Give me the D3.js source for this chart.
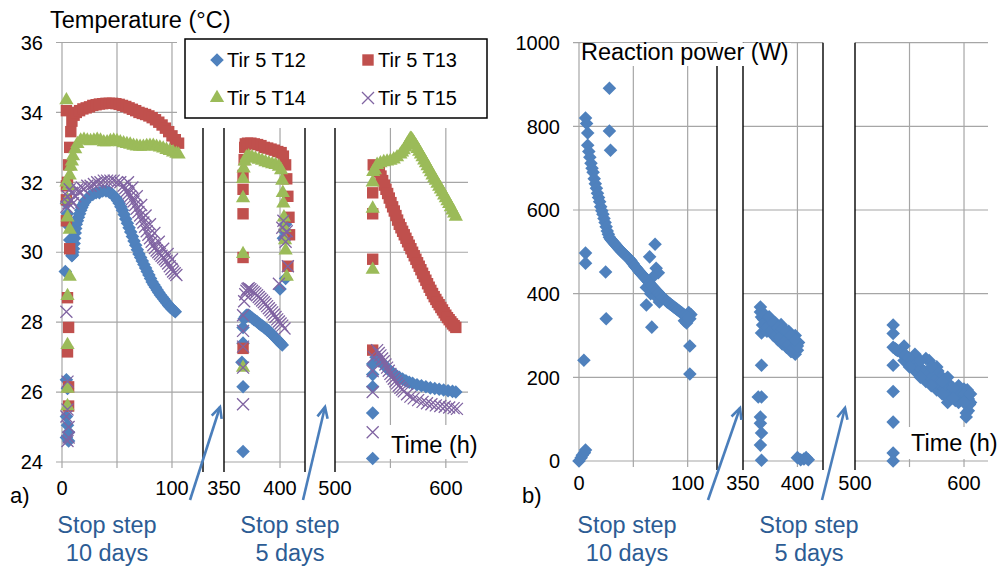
<!DOCTYPE html>
<html>
<head>
<meta charset="utf-8">
<script src="https://cdn.jsdelivr.net/npm/d3@7"></script>
<style>
  body { margin: 0; background: #fff; }
  svg { font-family: "Liberation Sans", Arial, sans-serif; }
</style>
</head>
<body>
<svg id="chart" width="997" height="568"></svg>
<script>
/***********************************************************
 * DATA  (time in h, temperature in °C, power in W)
 ************************************************************/
var sensors = ["Tir 5 T12", "Tir 5 T13", "Tir 5 T14", "Tir 5 T15"];
var colors  = ["#4F81BD", "#C0504D", "#9BBB59", "#8064A2"];
var tempTicks  = [24, 26, 28, 30, 32, 34, 36];
var powerTicks = [0, 200, 400, 600, 800, 1000];
var gridTimes  = [[0, 50, 100], [400], [550, 600]];
var timeLabels = [[0, 100], [350, 400], [500, 600]];

var T12 = [
  [3,29.45],[4,26.35],[5,26.1],[4,25.3],[5,25.05],[6,24.85],[4,24.7],[6,24.6],
  [4,31.4],[5,31.1],[6,30.75],[7,30.35],[8,30.0],[9,29.9],[10,30.0],[11,30.25],[12,30.55],[13,30.8],
  [15,31.0],[17,31.2],[19,31.35],[22,31.5],[25,31.6],[28,31.65],[31,31.7],[34,31.7],[37,31.75],
  [40,31.75],[43,31.72],[46,31.65],[49,31.55],[52,31.4],[55,31.2],[58,30.95],[61,30.7],[64,30.45],
  [67,30.2],[70,29.95],[73,29.75],[76,29.55],[79,29.35],[82,29.15],[85,29.0],[88,28.85],[91,28.72],
  [94,28.6],[97,28.48],[100,28.38],[103,28.3],
  [9.5,29.92],[10.5,30.1],[11.5,30.4],[12.5,30.68],[14,30.9],[16,31.1],[18,31.28],[20.5,31.43],
  [50.5,31.48],[53.5,31.3],[56.5,31.08],[59.5,30.83],[62.5,30.58],[65.5,30.32],[68.5,30.07],
  [71.5,29.85],[74.5,29.65],[77.5,29.45],[80.5,29.25],[83.5,29.07],[86.5,28.92],[89.5,28.78],
  [92.5,28.66],[95.5,28.54],[98.5,28.43],[101.5,28.34],
  [367,24.3],[367,26.15],[366,26.85],[367,27.4],[367,27.85],[368,28.1],[370,28.2],[372,28.2],
  [375,28.12],[378,28.05],[381,27.97],[384,27.9],[387,27.82],[390,27.75],[393,27.65],[396,27.55],
  [399,27.45],[402,27.35],[400,28.95],[405,29.25],[403,30.4],[404,30.6],[405,30.8],
  [369,28.15],[371,28.2],[373.5,28.16],[376.5,28.08],[379.5,28.01],[382.5,27.93],[385.5,27.86],
  [388.5,27.78],[391.5,27.7],[394.5,27.6],[397.5,27.5],[400.5,27.4],
  [534,24.1],[534,25.4],[534,26.15],[534,26.5],[534,26.8],[537,27.0],[540,26.92],[543,26.82],
  [546,26.72],[549,26.62],[552,26.55],[555,26.48],[558,26.42],[561,26.37],[564,26.32],[567,26.28],
  [570,26.25],[574,26.21],[578,26.18],[582,26.15],[586,26.12],[590,26.1],[594,26.08],[598,26.06],
  [602,26.04],[606,26.02],[609,26.0],
  [538.5,26.96],[541.5,26.87],[544.5,26.77],[547.5,26.67],[550.5,26.58]
];
var T13 = [
  [4,34.05],[4,30.9],[7,30.1],[5,28.7],[6,27.85],[5,27.15],[6,26.15],[6,25.6],[4,31.5],[4,31.9],
  [5,32.0],[6,32.5],[7,33.0],[8,33.45],[9,33.75],[11,33.92],[13,34.0],[16,34.05],[19,34.1],
  [22,34.13],[25,34.16],[28,34.2],[31,34.22],[34,34.24],[37,34.25],[40,34.26],[43,34.26],[46,34.26],
  [49,34.25],[52,34.23],[55,34.2],[58,34.17],[61,34.13],[64,34.09],[67,34.05],[70,34.0],[73,33.97],
  [76,33.94],[79,33.9],[82,33.85],[85,33.79],[88,33.72],[91,33.64],[94,33.55],[97,33.45],[100,33.33],
  [103,33.22],[106,33.12],
  [367,27.25],[367,29.85],[367,31.1],[367,31.8],[367,32.2],[368,32.65],[368.5,33.0],[369,33.1],
  [371,33.12],[374,33.12],[377,33.1],[380,33.08],[383,33.05],[386,33.0],[389,32.98],[392,32.95],
  [395,32.92],[398,32.88],[401,32.85],[403,32.75],[405,32.5],[406,32.1],[407,31.6],[408,31.0],
  [408.5,30.5],[407,29.6],
  [534,27.2],[534,29.8],[534,31.1],[534,31.7],[534.5,32.5],[536,32.4],[538,32.35],[540,32.3],
  [543,32.05],[546,31.8],[549,31.55],[552,31.3],[555,31.05],[558,30.8],[561,30.6],[564,30.4],
  [567,30.2],[570,30.0],[573,29.8],[576,29.6],[579,29.4],[582,29.2],[585,29.0],[588,28.82],
  [591,28.65],[594,28.5],[597,28.35],[600,28.2],[603,28.07],[606,27.95],[609,27.85],
  [537,32.38],[539,32.32],[541.5,32.18],[544.5,31.92],[547.5,31.68],[550.5,31.42],[553.5,31.18],
  [556.5,30.92],[559.5,30.7],[562.5,30.5],[565.5,30.3],[568.5,30.1],[571.5,29.9],[574.5,29.7],
  [577.5,29.5],[580.5,29.3],[583.5,29.1],[586.5,28.91],[589.5,28.73],[592.5,28.57],[595.5,28.42],
  [598.5,28.27],[601.5,28.13],[604.5,28.01],[607.5,27.9]
];
var T14 = [
  [4,34.35],[4,32.0],[5,31.0],[7,30.65],[7,29.3],[5,28.75],[5,27.35],[5,26.1],[5,25.6],
  [5,31.5],[6,31.9],[7,32.2],[8,32.45],[9,32.6],[10,32.75],[12,32.95],[14,33.1],[17,33.2],
  [20,33.22],[23,33.2],[26,33.18],[29,33.2],[32,33.22],[35,33.2],[38,33.15],[41,33.15],[44,33.18],
  [47,33.2],[50,33.18],[53,33.15],[56,33.12],[59,33.1],[62,33.08],[65,33.05],[68,33.03],[71,33.02],
  [74,33.02],[77,33.04],[80,33.05],[83,33.05],[86,33.02],[89,33.0],[92,32.97],[95,32.93],[98,32.9],
  [101,32.86],[104,32.82],[106,32.8],
  [367,26.7],[367,29.95],[367,31.55],[367,32.1],[367.5,32.4],[368.5,32.6],[370,32.72],[372,32.75],
  [375,32.72],[378,32.68],[381,32.65],[384,32.62],[387,32.58],[390,32.55],[393,32.52],[396,32.5],
  [399,32.45],[401,32.35],[402,32.05],[402.5,31.7],[403,31.4],[403.5,31.0],[404,30.7],[404.5,30.35],
  [405,30.05],[406,29.3],
  [534,29.5],[534,31.25],[534,32.0],[534.5,32.3],[536,32.35],[538,32.5],[541,32.55],[544,32.58],
  [547,32.6],[550,32.62],[553,32.66],[556,32.72],[559,32.8],[562,32.92],[565,33.08],[568,33.25],
  [570,33.2],[573,33.05],[576,32.88],[579,32.72],[582,32.55],[585,32.38],[588,32.2],[591,32.05],
  [594,31.88],[597,31.72],[600,31.55],[603,31.38],[606,31.2],[609,31.02],
  [560.5,32.86],[563.5,33.0],[566.5,33.16],[569,33.24],[571.5,33.12],[574.5,32.96],[577.5,32.8],
  [580.5,32.63],[583.5,32.46],[586.5,32.29],[589.5,32.12],[592.5,31.96],[595.5,31.8],[598.5,31.63],
  [601.5,31.46],[604.5,31.29],[607.5,31.11]
];
var T15 = [
  [4,28.3],[5,26.3],[5,25.5],[6,25.0],[6,24.7],[5,24.6],[4,25.3],
  [4,31.3],[5,31.6],[6,31.4],[7,31.8],[8,31.5],[9,31.7],[10,31.4],[12,31.6],[14,31.8],[16,31.7],
  [18,31.85],[20,31.8],[23,31.9],[26,31.9],[29,31.95],[32,32.0],[35,32.0],[38,32.05],[41,32.05],
  [44,32.05],[47,32.05],[50,32.0],[53,32.0],[56,31.9],[59,31.75],[62,31.6],[65,31.45],[68,31.25],
  [71,31.05],[74,30.85],[77,30.6],[80,30.4],[83,30.2],[86,30.05],[89,29.95],[92,29.85],[95,29.75],
  [98,29.6],[101,29.45],[104,29.35],
  [60,32.0],[64,31.85],[68,31.6],[72,31.35],[76,31.05],[80,30.8],[84,30.55],[88,30.3],[92,30.1],
  [96,29.95],[100,29.8],
  [57.5,31.83],[60.5,31.68],[63.5,31.52],[66.5,31.35],[69.5,31.15],[72.5,30.95],[75.5,30.73],
  [78.5,30.5],[81.5,30.3],[84.5,30.12],[87.5,30.0],[90.5,29.9],[93.5,29.8],[96.5,29.68],[99.5,29.52],
  [102.5,29.4],
  [367,25.65],[367,26.7],[367,27.3],[367,27.75],[367,28.2],[368,28.6],[370,28.9],[372,28.97],
  [375,28.9],[378,28.82],[381,28.72],[384,28.62],[387,28.52],[390,28.4],[393,28.28],[396,28.15],
  [399,28.02],[402,27.9],[404,27.82],[399,29.1],[402,30.7],[403,30.9],[404,30.5],[405,30.3],
  [406,30.6],[407,29.6],
  [369,28.8],[371,28.95],[373.5,28.94],[376.5,28.86],[379.5,28.77],[382.5,28.67],[385.5,28.57],
  [388.5,28.46],[391.5,28.34],[394.5,28.22],[397.5,28.08],[400.5,27.96],
  [534,24.85],[534,26.0],[534,26.6],[535,27.0],[538,27.2],[541,27.05],[544,26.88],[547,26.7],
  [550,26.52],[553,26.38],[556,26.25],[559,26.12],[562,26.02],[565,25.94],[568,25.87],[571,25.82],
  [575,25.77],[579,25.72],[583,25.68],[587,25.65],[591,25.62],[595,25.6],[599,25.58],[603,25.56],
  [607,25.54],[610,25.52],
  [539.5,27.12],[542.5,26.96],[545.5,26.79],[548.5,26.61],[551.5,26.45],[554.5,26.31],[557.5,26.18],
  [560.5,26.07]
];
var power = [
  [0,0],[2,8],[3,14],[5,20],[6,26],[4.5,241],[6,497],[6,473],[25,340],[24.5,452],
  [28,891],[28,789],[29,743],[62,373],[67,320],[65,488],[70,518],[71,461],[73,450],[102,275],[102,208],
  [6,820],[7,807],[8,784],[8,755],[9,740],[10,726],[11,712],[12,700],[13,690],[14,675],[15,663],
  [16,652],[17,640],[18,630],[19,620],[20,608],[21,598],[22,590],[23,580],[24,570],[25,560],[26,550],
  [27,542],[28,535],[30,528],[32,522],[34,516],[36,510],[38,504],[40,499],[42,494],[44,489],[46,484],
  [48,478],[50,471],[52,464],[54,458],[56,451],[58,446],[60,440],[62,434],[64,428],[66,422],[68,416],
  [70,410],[72,405],[74,399],[76,394],[78,389],[80,384],[82,379],[84,375],[86,371],[88,367],[90,363],
  [92,359],[94,355],[96,351],[98,347],[100,344],[102,340],[103,350],[101,355],[99,330],[97,335],
  [62,415],[66,400],[70,395],[74,380],[68,440],
  [29,531],[31,525],[33,519],[35,513],[37,507],[39,501],[41,496],[43,491],[45,486],[47,481],
  [49,474],[51,467],[53,461],[55,454],[57,448],[59,443],[61,437],[63,431],[65,425],[67,419],
  [69,413],[71,407],[73,402],[75,396],[77,391],[79,386],[81,381],[83,377],[85,373],[87,369],
  [89,365],[91,361],[93,357],[95,353],[97,349],[99,345],[101,342],
  [364,153],[367,153],[366,105],[366,90],[367,67],[366,38],[367,2],[367,229],[367,306],[366,368],
  [366,356],[367,344],[369,338],[371,333],[373,327],[375,322],[377,318],[379,314],[381,310],[383,305],
  [385,301],[387,297],[389,293],[391,290],[393,287],[395,284],[397,281],[399,279],[401,283],
  [378,300],[382,290],[386,280],[390,272],[394,262],[398,255],[380,330],[385,326],[392,310],[398,300],
  [370,350],[375,335],[390,300],[372,310],[385,285],[395,262],[400,265],
  [368,325],[372,320],[376,310],[380,300],[384,295],[388,285],[392,278],[396,270],[400,275],
  [374,345],[378,330],[382,320],[386,315],[390,310],[394,300],[398,290],
  [400,8],[403,3],[406,5],[408,8],[410,3],
  [535,325],[535,305],[535,229],[535,166],[535,93],[535,19],[535,0],[535,272],[538,266],[541,262],
  [544,258],[547,251],[550,244],[553,236],[556,229],[559,223],[562,217],[565,210],[568,203],[571,196],
  [574,189],[577,182],[580,176],[583,170],[586,165],[589,162],[592,160],[595,159],[598,158],[601,155],
  [604,148],[606,140],[604,120],[602,105],[568,240],[572,225],[576,215],[580,200],[584,190],[596,170],
  [600,172],[588,150],[592,145],[585,140],
  [545,275],[555,255],[565,245],[575,225],[585,200],[595,180],[603,170],
  [545,240],[555,215],[565,190],[575,170],[585,150],[595,140],[602,115],
  [537,268],[539,264],[543,258],[546,254],[549,247],[552,240],[555,232],[558,226],[561,220],
  [564,213],[567,206],[570,199],[573,192],[576,186],[579,179],[582,173],[585,167],[588,163],
  [591,161],[594,159],[597,158],[600,156],[603,150],[605,135],
  [560,240],[570,225],[580,190],[590,175],[600,160],[606,160],
  [550,225],[560,200],[570,180],[580,160],[590,150],[600,140]
];

/***********************************************************
 * LAYOUT
 ************************************************************/
var svg = d3.select("#chart");
var gridColor = "#A6A6A6";

var panelA = {
  y: d3.scaleLinear().domain([24, 36]).range([462, 42.5]),
  yTicks: tempTicks,
  domains: [[0, 128.2], [350, 422.3], [500, 620]],
  ranges:  [[62, 203], [224, 305], [335, 468]],
  gridTop: 42.5, gridBottom: 468, sepBottom: 472, labelY: 495
};
var panelB = {
  y: d3.scaleLinear().domain([0, 1000]).range([461, 42.7]),
  yTicks: powerTicks,
  domains: [[0, 127], [350, 423.5], [500, 622]],
  ranges:  [[579, 717], [743, 823], [855, 988]],
  gridTop: 42.7, gridBottom: 467, sepBottom: 470, labelY: 490
};
[panelA, panelB].forEach(function(p) {
  p.x = p.domains.map(function(d, i) { return d3.scaleLinear().domain(d).range(p.ranges[i]); });
});

function segOf(p, t) {
  for (var i = 0; i < p.domains.length; i++)
    if (t >= p.domains[i][0] && t <= p.domains[i][1]) return i;
  return -1;
}

function drawFrame(p) {
  var g = svg.append("g");
  // horizontal gridlines per segment
  p.ranges.forEach(function(r, i) {
    g.selectAll(null).data(p.yTicks).enter().append("line")
      .attr("x1", i === 0 ? r[0] - 6 : r[0]).attr("x2", r[1])
      .attr("y1", function(d) { return p.y(d); }).attr("y2", function(d) { return p.y(d); })
      .attr("stroke", gridColor).attr("stroke-width", 1.2);
  });
  // vertical gridlines
  gridTimes.forEach(function(ts, i) {
    g.selectAll(null).data(ts).enter().append("line")
      .attr("x1", function(d) { return p.x[i](d); }).attr("x2", function(d) { return p.x[i](d); })
      .attr("y1", p.gridTop).attr("y2", p.gridBottom)
      .attr("stroke", gridColor).attr("stroke-width", 1.2);
  });
  // black break lines between the segments
  var seps = [p.ranges[0][1], p.ranges[1][0], p.ranges[1][1], p.ranges[2][0]];
  g.selectAll(null).data(seps).enter().append("line")
    .attr("x1", function(d) { return d; }).attr("x2", function(d) { return d; })
    .attr("y1", p.gridTop).attr("y2", p.sepBottom)
    .attr("stroke", "#000").attr("stroke-width", 1.4);
  // y tick labels
  g.selectAll(null).data(p.yTicks).enter().append("text")
    .attr("x", p.ranges[0][0] - 19).attr("y", function(d) { return p.y(d); })
    .attr("dy", "0.36em").attr("text-anchor", "end")
    .style("font-size", "20px").text(function(d) { return d; });
  // x tick labels
  timeLabels.forEach(function(ts, i) {
    g.selectAll(null).data(ts).enter().append("text")
      .attr("x", function(d) { return p.x[i](d); }).attr("y", p.labelY)
      .attr("text-anchor", "middle").style("font-size", "20px")
      .text(function(d) { return d; });
  });
}

function whiteLabel(x, y, w, h, tx, ty, txt, size) {
  svg.append("rect").attr("x", x).attr("y", y).attr("width", w).attr("height", h).attr("fill", "#fff");
  svg.append("text").attr("x", tx).attr("y", ty).style("font-size", size + "px").text(txt);
}

var markerPath = [
  d3.symbol().type(d3.symbolSquare).size(92)(),
  d3.symbol().type(d3.symbolSquare).size(130)(),
  d3.symbol().type(d3.symbolTriangle).size(88)(),
  "M-6,-6L6,6M6,-6L-6,6"
];
function addMarker(sel, k) {
  sel.append("path").attr("d", markerPath[k])
    .attr("transform", k === 0 ? "rotate(45)" : null)
    .attr("fill", k === 3 ? "none" : colors[k])
    .attr("stroke", k === 3 ? colors[k] : "none")
    .attr("stroke-width", k === 3 ? 1.3 : 0);
}

function drawPoints(p, data, k) {
  var pts = data.filter(function(d) { return segOf(p, d[0]) >= 0; });
  var nodes = svg.append("g").selectAll(null).data(pts).enter().append("g")
    .attr("transform", function(d) {
      var s = segOf(p, d[0]);
      return "translate(" + [p.x[s](d[0]), p.y(d[1])] + ")";
    });
  addMarker(nodes, k);
}

function arrow(x1, y1, x2, y2) {
  var a = Math.atan2(y2 - y1, x2 - x1), L = 12, w = 0.45;
  svg.append("line").attr("x1", x1).attr("y1", y1).attr("x2", x2).attr("y2", y2)
    .attr("stroke", "#4A7EBB").attr("stroke-width", 2.6);
  svg.append("path")
    .attr("d", "M" + [x2 - L * Math.cos(a - w), y2 - L * Math.sin(a - w)] +
               "L" + [x2, y2] +
               "L" + [x2 - L * Math.cos(a + w), y2 - L * Math.sin(a + w)])
    .attr("fill", "none").attr("stroke", "#4A7EBB").attr("stroke-width", 2.6);
}

function stopText(cx, line2) {
  var t = svg.append("text").attr("text-anchor", "middle").attr("fill", "#2C5C94")
    .style("font-size", "23.5px");
  t.append("tspan").attr("x", cx).attr("y", 533).text("Stop step");
  t.append("tspan").attr("x", cx).attr("y", 561).text(line2);
}

/***********************************************************
 * PANEL a) temperatures
 ************************************************************/
drawFrame(panelA);
whiteLabel(388, 425, 92, 34, 391, 453, "Time (h)", 23.5);
[T12, T13, T14, T15].forEach(function(s, k) { drawPoints(panelA, s, k); });

// legend (white box over the top of the broken axes)
svg.append("rect").attr("x", 177).attr("y", 30).attr("width", 320).attr("height", 98).attr("fill", "#fff");
svg.append("rect").attr("x", 185).attr("y", 39).attr("width", 302).attr("height", 79)
  .attr("fill", "#fff").attr("stroke", "#000").attr("stroke-width", 1.5);
var legPos = [[217, 60], [368, 60], [217, 98], [368, 98]];
var leg = svg.append("g").selectAll(null).data(sensors).enter().append("g")
  .attr("transform", function(d, i) { return "translate(" + legPos[i] + ")"; });
leg.each(function(d, i) { addMarker(d3.select(this), i); });
leg.append("text").attr("x", 10).attr("y", 7).style("font-size", "20px").text(function(d) { return d; });

svg.append("text").attr("x", 50).attr("y", 28).style("font-size", "23.5px").text("Temperature (°C)");
svg.append("text").attr("x", 10).attr("y", 503).style("font-size", "22px").text("a)");
arrow(190, 500, 220, 407);
arrow(303, 500, 325, 407);
stopText(107, "10 days");
stopText(290, "5 days");

/***********************************************************
 * PANEL b) reaction power
 ************************************************************/
drawFrame(panelB);
whiteLabel(581, 43, 210, 23, 581, 60, "Reaction power (W)", 23.5);
whiteLabel(908, 427, 89, 32, 911, 451, "Time (h)", 23.5);
drawPoints(panelB, power, 0);

svg.append("text").attr("x", 522).attr("y", 503).style("font-size", "22px").text("b)");
arrow(708, 500, 740, 408);
arrow(822, 500, 845, 408);
stopText(627, "10 days");
stopText(809, "5 days");
</script>
</body>
</html>
